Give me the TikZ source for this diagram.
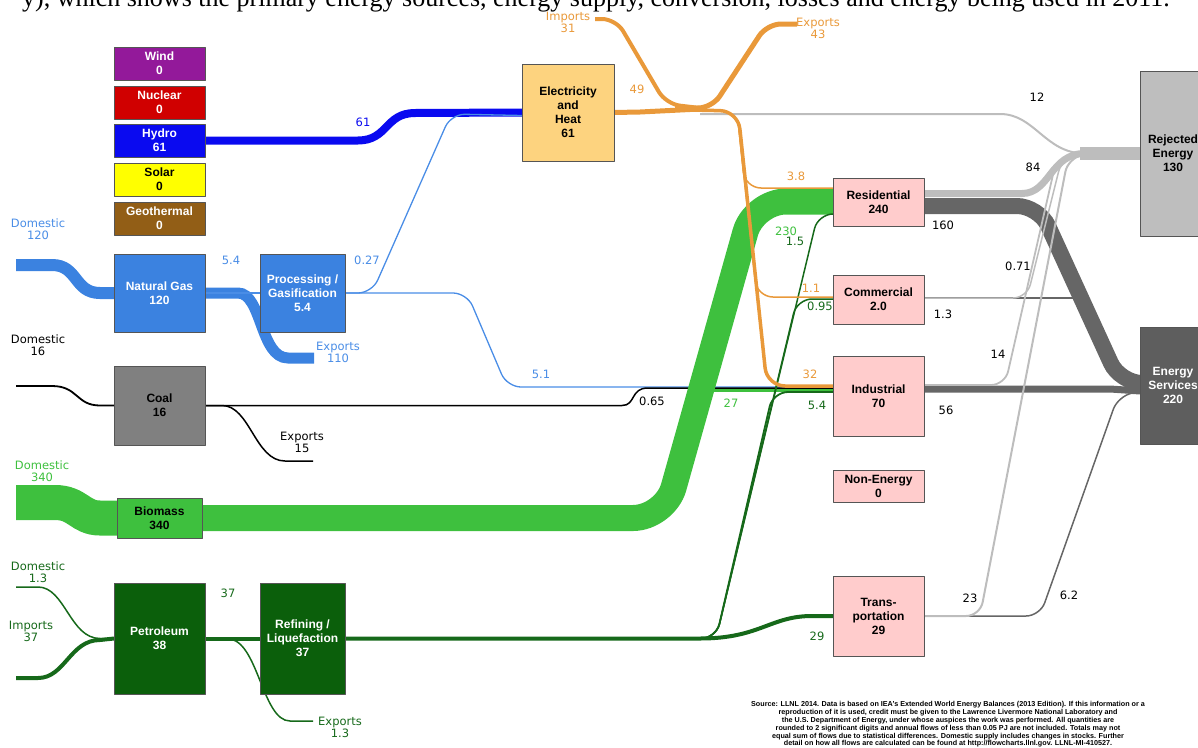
\documentclass[tikz,border=0pt]{standalone}
\usepackage{fontspec}
\usetikzlibrary{backgrounds}
\setmainfont{Liberation Sans}
\newfontfamily\headfont{Liberation Serif}
\newfontfamily\labfam{DejaVu Sans}
\definecolor{hydro}{HTML}{0A0AF0}
\definecolor{ngas}{HTML}{3B82E0}
\definecolor{nglab}{HTML}{4A8DE6}
\definecolor{bio}{HTML}{3EC03E}
\definecolor{petro}{HTML}{0B5F0B}
\definecolor{petroline}{HTML}{16691A}
\definecolor{orng}{HTML}{E9993A}
\definecolor{elec}{HTML}{FDD37F}
\definecolor{pinkbox}{HTML}{FFCCCC}
\definecolor{rej}{HTML}{BEBEBE}
\definecolor{serv}{HTML}{5E5E5E}
\definecolor{lgray}{HTML}{BDBDBD}
\definecolor{dgray}{HTML}{666666}
\definecolor{coalc}{HTML}{808080}
\definecolor{windc}{HTML}{93199A}
\definecolor{nucc}{HTML}{D00000}
\definecolor{solarc}{HTML}{FFFF00}
\definecolor{geoc}{HTML}{925E16}
\definecolor{bordc}{HTML}{555555}
\newcommand{\boxfnt}{\fontsize{12}{14}\selectfont\bfseries}
\newcommand{\labfnt}{\labfam\fontsize{11.5}{12}\selectfont}
\tikzset{
  ebox/.style={draw=bordc, line width=0.8pt, inner sep=0pt, outer sep=0pt, align=center, font=\boxfnt},
  flab/.style={inner sep=0pt, align=center, font=\labfnt},
}
\begin{document}
\begin{tikzpicture}[x=1pt,y=-1pt,line join=round]
\useasboundingbox (0,0) rectangle (1198,747);
\begin{scope}
\clip (0,0) rectangle (1198,747);
\node[anchor=base east, inner sep=0pt, font=\headfont\fontsize{26}{30}\selectfont] (head) at (1170,6.7) {y), which shows the primary energy sources, energy supply, conversion, losses and energy being used in 2011.};
\end{scope}

% ---------- boxes ----------
\node[ebox, fill=windc, text=white, minimum width=91pt, minimum height=33pt] (Wind) at (159.5,63.5) {Wind\\0};
\node[ebox, fill=nucc, text=white, minimum width=91pt, minimum height=33pt] (Nuc) at (159.5,102.5) {Nuclear\\0};
\node[ebox, fill=hydro, text=white, minimum width=91pt, minimum height=33pt] (Hydro) at (159.5,140.5) {Hydro\\61};
\node[ebox, fill=solarc, text=black, minimum width=91pt, minimum height=33pt] (Solar) at (159.5,179.5) {Solar\\0};
\node[ebox, fill=geoc, text=white, minimum width=91pt, minimum height=33pt] (Geo) at (159.5,218.5) {Geothermal\\0};
\node[ebox, fill=ngas, text=white, minimum width=91pt, minimum height=78pt] (NG) at (159.5,293) {Natural Gas\\120};
\node[ebox, fill=ngas, text=white, minimum width=85pt, minimum height=78pt] (Proc) at (302.5,293) {Processing /\\Gasification\\5.4};
\node[ebox, fill=coalc, text=black, minimum width=91pt, minimum height=79pt] (Coal) at (159.5,405.5) {Coal\\16};
\node[ebox, fill=bio, text=black, minimum width=85pt, minimum height=40pt] (Bio) at (159.5,518) {Biomass\\340};
\node[ebox, fill=petro, text=white, minimum width=91pt, minimum height=111pt] (Pet) at (159.5,638.5) {Petroleum\\38};
\node[ebox, fill=petro, text=white, minimum width=85pt, minimum height=111pt] (Ref) at (302.5,638.5) {Refining /\\Liquefaction\\37};
\node[ebox, fill=elec, text=black, minimum width=92pt, minimum height=97pt] (Elec) at (568,112.5) {Electricity\\and\\Heat\\61};
\node[ebox, fill=pinkbox, text=black, minimum width=91pt, minimum height=48pt] (Res) at (878.5,202) {Residential\\240};
\node[ebox, fill=pinkbox, text=black, minimum width=91pt, minimum height=49pt] (Com) at (878.5,299.5) {Commercial\\2.0};
\node[ebox, fill=pinkbox, text=black, minimum width=91pt, minimum height=80pt] (Ind) at (878.5,396) {Industrial\\70};
\node[ebox, fill=pinkbox, text=black, minimum width=91pt, minimum height=32pt] (Non) at (878.5,486) {Non-Energy\\0};
\node[ebox, fill=pinkbox, text=black, minimum width=91pt, minimum height=80pt] (Trans) at (878.5,616) {Trans-\\portation\\29};
\node[ebox, fill=rej, text=black, minimum width=66pt, minimum height=165pt] (Rej) at (1173,153.5) {Rejected\\Energy\\130};
\node[ebox, fill=serv, text=white, minimum width=66pt, minimum height=117pt] (Serv) at (1173,385.5) {Energy\\Services\\220};

% ---------- free ends ----------
\coordinate (ngdom) at (16,265);
\coordinate (ngexp) at (314,358);
\coordinate (coaldom) at (16,386);
\coordinate (coalexp) at (313,461);
\coordinate (biodom) at (16,502.5);
\coordinate (petdom) at (16,587);
\coordinate (petimp) at (16,678);
\coordinate (petexp) at (313,721);
\coordinate (elimp) at (595,19);
\coordinate (elexp) at (797,24);

% ---------- flows ----------
\begin{scope}[on background layer]
% hydro
\draw[hydro, line width=8] (Hydro.east) -- (358,140.5) .. controls (388,140.5) and (385,113) .. (415,113) -- (Elec.west);
% natural gas
\draw[ngas, line width=12] (ngdom) -- (52,265) .. controls (78,265) and (74,293) .. (100,293) -- (NG.west);
\draw[ngas, line width=11] (NG.east) -- (238,293) .. controls (262,293) and (260,358) .. (288,358) -- (ngexp);
\draw[nglab, line width=1.3] (NG.east) -- (Proc.west);
\draw[nglab, line width=1.3, rounded corners=14] (Proc.east) -- (372,293) -- (451,114) -- ([yshift=-3pt]Elec.west);
\draw[nglab, line width=1.3, rounded corners=14] (Proc.east) -- (467,293) -- (507,387) -- ([yshift=9pt]Ind.west);
% coal
\draw[black, line width=1.8] (coaldom) -- (52,386) .. controls (78,386) and (76,405.5) .. (100,405.5) -- (Coal.west);
\draw[black, line width=1.5] (Coal.east) -- (622,405.5) .. controls (636,405.5) and (630,388) .. (648,388) -- ([yshift=8pt]Ind.west);
\draw[black, line width=1.5] (Coal.east) -- (222,405.5) .. controls (250,405.5) and (255,461) .. (285,461) -- (coalexp);
% biomass
\draw[bio, line width=35] (biodom) -- (55,502.5) .. controls (78,502.5) and (80,518) .. (100,518) -- (Bio.west);
\draw[bio, line width=3] (705,390.5) -- ([yshift=5.5pt]Ind.west);
\draw[bio, line width=26, rounded corners=32] (Bio.east) -- (665,518) -- (754,201.5) -- ([yshift=0.5pt]Res.west);
% petroleum
\draw[petroline, line width=1.5] (petdom) -- (38,587) .. controls (65,587) and (70,638.5) .. (100,638.5) -- (Pet.west);
\draw[petroline, line width=4] (petimp) -- (38,678) .. controls (65,678) and (70,640) .. (100,640) -- (Pet.west);
\draw[petroline, line width=4] (Pet.east) -- (Ref.west);
\draw[petroline, line width=1.5] (Pet.east) -- (228,639) .. controls (258,639) and (262,721) .. (290,721) -- (petexp);
\draw[petroline, line width=4] (Ref.east) -- (700,638.5) .. controls (760,638.5) and (770,616) .. (812,616) -- (Trans.west);
\draw[petroline, line width=1.8, rounded corners=15] (Ref.east) -- (716,638.5) -- (773,392) -- ([yshift=4pt]Ind.west);
\draw[petroline, line width=1.5, rounded corners=15] (Ref.east) -- (716,638.5) -- (797,299) -- ([yshift=0.5pt]Com.west);
\draw[petroline, line width=1.5, rounded corners=15] (Ref.east) -- (716,638.5) -- (818,214) -- ([yshift=-12pt]Res.west);
% electricity
\draw[lgray, line width=2] (700,114) -- (1000,114) .. controls (1035,114) and (1045,153.5) .. (1085,153.5);
\draw[orng, line width=4, rounded corners=14] (elimp) -- (616,19) -- (666,104) -- (700,108);
\draw[orng, line width=5, rounded corners=14] (675,108) -- (712,108) -- (767,24) -- (elexp);
\draw[orng, line width=5] (Elec.east) -- (640,112) -- (700,109);
\draw[orng, line width=3.5, rounded corners=18] (690,110) -- (738,111) -- (767,386) -- ([yshift=10pt]Ind.west);
\draw[orng, line width=1.5, rounded corners=16] (690,110) -- (737,111) -- (745,188) -- ([yshift=14pt]Res.west);
\draw[orng, line width=1.5, rounded corners=16] (690,110) -- (737,111) -- (757,297) -- ([yshift=2.5pt]Com.west);
% outputs
\draw[dgray, line width=1.5] ([yshift=1.5pt]Com.east) -- (1082,298);
\draw[lgray, line width=7] ([yshift=8.5pt]Res.east) -- (1022,193.5) .. controls (1050,193.5) and (1050,153.5) .. (1085,153.5) -- (Rej.west);
\draw[lgray, line width=13] (1080,153.5) -- (Rej.west);
\draw[dgray, line width=16, rounded corners=22] ([yshift=-4pt]Res.east) -- (1039,206) -- (1120,383) -- ([yshift=2.5pt]Serv.west);
\draw[dgray, line width=7] ([yshift=7pt]Ind.east) -- (1110,389) -- ([yshift=-5.5pt]Serv.west);
\draw[dgray, line width=1.5, rounded corners=14] (Trans.east) -- (1040,616) -- (1118,396) -- ([yshift=-6pt]Serv.west);
\draw[lgray, line width=1.5, rounded corners=14] ([yshift=1.5pt]Com.east) -- (1027,298) -- (1062,158) -- (1090,153.5);
\draw[lgray, line width=1.8, rounded corners=14] ([yshift=11pt]Ind.east) -- (1005,385) -- (1057,157) -- (1090,153.5);
\draw[lgray, line width=2, rounded corners=14] (Trans.east) -- (980,616) -- (1068,158) -- (1090,153.5);
\end{scope}

% ---------- labels ----------
\node[flab, text=nglab] (l1) at (38,229) {Domestic\\120};
\node[flab, text=nglab] (l2) at (231,260) {5.4};
\node[flab, text=nglab] (l3) at (367,260) {0.27};
\node[flab, text=nglab] (l4) at (338,352) {Exports\\110};
\node[flab, text=nglab] (l5) at (541,374) {5.1};
\node[flab, text=hydro] (l6) at (363,122) {61};
\node[flab, text=black] (l7) at (38,345) {Domestic\\16};
\node[flab, text=black] (l8) at (302,442) {Exports\\15};
\node[flab, text=black] (l9) at (652,401) {0.65};
\node[flab, text=bio] (l10) at (42,471) {Domestic\\340};
\node[flab, text=bio] (l11) at (786,231) {230};
\node[flab, text=bio] (l12) at (731,403) {27};
\node[flab, text=petroline] (l13) at (38,572) {Domestic\\1.3};
\node[flab, text=petroline] (l14) at (31,631) {Imports\\37};
\node[flab, text=petroline] (l15) at (228,593) {37};
\node[flab, text=petroline] (l16) at (340,727) {Exports\\1.3};
\node[flab, text=petroline] (l17) at (795,241) {1.5};
\node[flab, text=petroline] (l18) at (820,306) {0.95};
\node[flab, text=petroline] (l19) at (817,405) {5.4};
\node[flab, text=petroline] (l20) at (817,636) {29};
\node[flab, text=orng] (l21) at (568,22) {Imports\\31};
\node[flab, text=orng] (l22) at (818,28) {Exports\\43};
\node[flab, text=orng] (l23) at (637,89) {49};
\node[flab, text=orng] (l24) at (796,176) {3.8};
\node[flab, text=orng] (l25) at (811,288) {1.1};
\node[flab, text=orng] (l26) at (810,374) {32};
\node[flab] (l27) at (1037,97) {12};
\node[flab] (l28) at (1033,167) {84};
\node[flab] (l29) at (943,225) {160};
\node[flab] (l30) at (1018,266) {0.71};
\node[flab] (l31) at (943,314) {1.3};
\node[flab] (l32) at (998,354) {14};
\node[flab] (l33) at (946,410) {56};
\node[flab] (l34) at (970,598) {23};
\node[flab] (l35) at (1069,595) {6.2};
\node[inner sep=0pt, align=center, font=\fontsize{7.2}{7.8}\selectfont\bfseries] (src) at (948,724.5) {Source: LLNL 2014. Data is based on IEA's Extended World Energy Balances (2013 Edition). If this information or a\\reproduction of it is used, credit must be given to the Lawrence Livermore National Laboratory and\\the U.S. Department of Energy, under whose auspices the work was performed. All quantities are\\rounded to 2 significant digits and annual flows of less than 0.05 PJ are not included. Totals may not\\equal sum of flows due to statistical differences. Domestic supply includes changes in stocks. Further\\detail on how all flows are calculated can be found at http://flowcharts.llnl.gov. LLNL-MI-410527.};
\end{tikzpicture}
\end{document}
